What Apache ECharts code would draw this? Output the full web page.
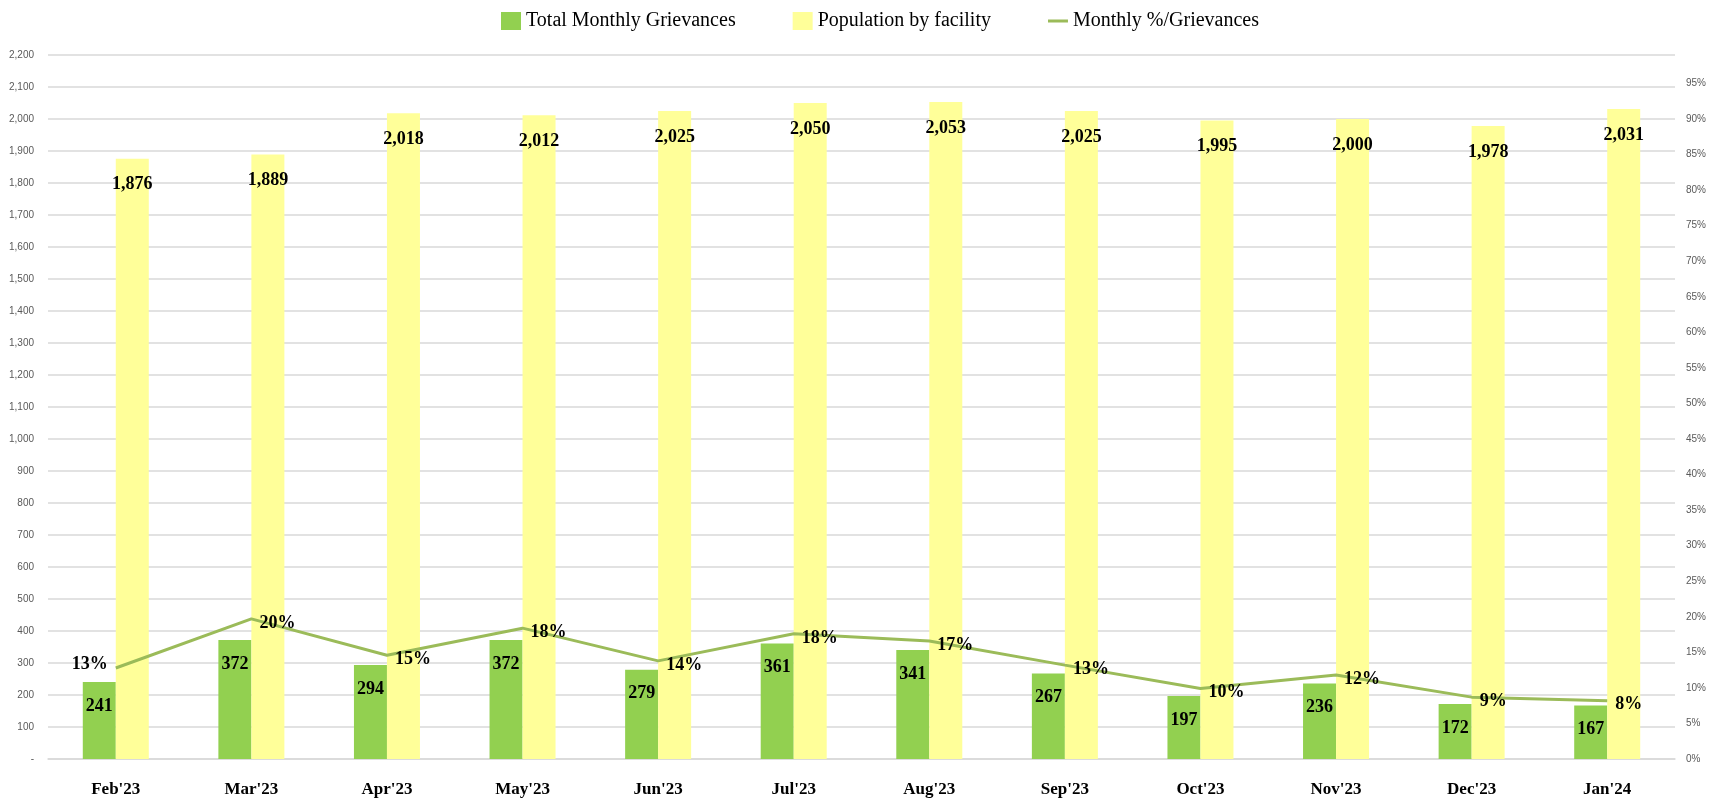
<!DOCTYPE html>
<html>
<head>
<meta charset="utf-8">
<title>Monthly Grievances</title>
<script src="https://cdn.jsdelivr.net/npm/echarts@6/dist/echarts.min.js"></script>
<style>
  html, body { margin: 0; padding: 0; background: #fff; }
  #chart { width: 1717px; height: 805px; }
</style>
</head>
<body>
<div id="chart"></div>
<script>
// 月份
const months = ["Feb'23", "Mar'23", "Apr'23", "May'23", "Jun'23", "Jul'23",
  "Aug'23", "Sep'23", "Oct'23", "Nov'23", "Dec'23", "Jan'24"];
// 每月申诉总数
const grievances = [241, 372, 294, 372, 279, 361, 341, 267, 197, 236, 172, 167];
// 各设施人数
const population = [1876, 1889, 2018, 2012, 2025, 2050, 2053, 2025, 1995, 2000, 1978, 2031];
// 每月百分比
const monthlyPct = [0.128, 0.197, 0.146, 0.184, 0.138, 0.176, 0.166, 0.132, 0.099, 0.118, 0.087, 0.082];

const serif = "'Liberation Serif', 'DejaVu Serif', serif";
const sans = "'Liberation Sans', Arial, sans-serif";
const lineColor = "#9bbb59";

const chart = echarts.init(document.getElementById("chart"));

const option = {
  animation: false,
  grid: { left: 48, right: 42, top: 55, bottom: 46, containLabel: false },
  legend: {
    top: 6,
    left: 496,
    itemGap: 57,
    itemWidth: 20,
    itemHeight: 18,
    textStyle: { fontFamily: serif, fontSize: 20, color: "#000" },
    data: [
      { name: "Total Monthly Grievances", icon: "rect" },
      { name: "Population by facility", icon: "rect" },
      {
        name: "Monthly %/Grievances",
        icon: "path://M0 0H20V3H0Z",
        itemStyle: { color: lineColor, borderWidth: 0 },
      },
    ],
  },
  xAxis: {
    type: "category",
    data: months,
    axisLine: { lineStyle: { color: "#d9d9d9", width: 1.5 } },
    axisTick: { show: false },
    axisLabel: {
      margin: 22,
      fontFamily: serif,
      fontWeight: "bold",
      fontSize: 17,
      color: "#000",
    },
  },
  yAxis: [
    {
      type: "value",
      min: 0,
      max: 2200,
      interval: 100,
      axisLine: { show: false },
      axisTick: { show: false },
      splitLine: { lineStyle: { color: "#d9d9d9", width: 1.5 } },
      axisLabel: {
        margin: 14,
        fontFamily: sans,
        fontSize: 10,
        color: "#595959",
        formatter: (v) => (v === 0 ? "-" : v.toLocaleString("en-US")),
      },
    },
    {
      type: "value",
      min: 0,
      max: 0.99,
      interval: 0.05,
      axisLine: { show: false },
      axisTick: { show: false },
      splitLine: { show: false },
      axisLabel: {
        margin: 11,
        showMaxLabel: false,
        fontFamily: sans,
        fontSize: 10,
        color: "#595959",
        formatter: (v) => Math.round(v * 100) + "%",
      },
    },
  ],
  series: [
    {
      name: "Total Monthly Grievances",
      type: "bar",
      data: grievances,
      barWidth: 33,
      barGap: "0%",
      itemStyle: { color: "#92d050" },
      label: {
        show: true,
        position: "insideTop",
        distance: 15,
        fontFamily: serif,
        fontWeight: "bold",
        fontSize: 18,
        color: "#000",
      },
    },
    {
      name: "Population by facility",
      type: "bar",
      data: population,
      barWidth: 33,
      barGap: "0%",
      itemStyle: { color: "#ffff99" },
      label: {
        show: true,
        position: "insideTop",
        distance: 17,
        fontFamily: serif,
        fontWeight: "bold",
        fontSize: 18,
        color: "#000",
        formatter: (p) => p.value.toLocaleString("en-US"),
      },
    },
    {
      name: "Monthly %/Grievances",
      type: "line",
      yAxisIndex: 1,
      // 点透明，只留标签
      symbol: "circle",
      symbolSize: 2,
      showSymbol: true,
      z: 5,
      data: monthlyPct.map((v, i) =>
        i === 0 ? { value: v, label: { position: "left", offset: [0, -4] } } : v
      ),
      lineStyle: { color: lineColor, width: 3 },
      itemStyle: { color: "rgba(0,0,0,0)", borderWidth: 0 },
      label: {
        show: true,
        position: "right",
        distance: 7,
        offset: [0, 4],
        fontFamily: serif,
        fontWeight: "bold",
        fontSize: 18,
        color: "#000",
        formatter: (p) => Math.round(p.value * 100) + "%",
      },
    },
  ],
};

chart.setOption(option);
</script>
</body>
</html>
